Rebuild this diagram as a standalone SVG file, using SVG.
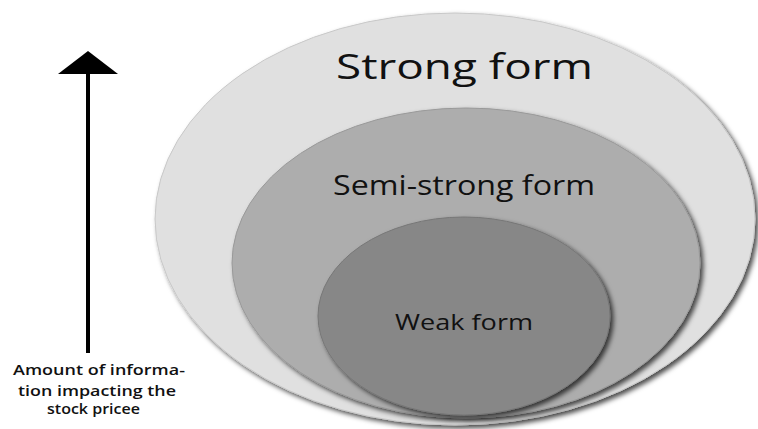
<svg xmlns="http://www.w3.org/2000/svg" width="758" height="429" viewBox="0 0 758 429">
<style>
.lbl{font-family:"Open Sans","Liberation Sans",sans-serif;fill:#111}
.side{font-family:"Open Sans","Liberation Sans",sans-serif;fill:#111;font-size:14px;font-weight:600}
</style>
<defs>
<filter id="sh" x="-10%" y="-10%" width="125%" height="125%">
<feDropShadow dx="3" dy="3" stdDeviation="2.5" flood-color="#000" flood-opacity="0.7"/>
</filter>
</defs>
<rect width="758" height="429" fill="#fff"/>
<g id="strong">
<ellipse cx="455" cy="219" rx="300" ry="206" fill="#e0e0e0" stroke="#c8c8c8" stroke-width="1" filter="url(#sh)"/>
<text class="lbl" x="336" y="79" font-size="35" textLength="257" lengthAdjust="spacingAndGlyphs">Strong form</text>
</g>
<g id="semi">
<ellipse cx="466" cy="263" rx="234" ry="155" fill="#adadad" stroke="#999" stroke-width="1" filter="url(#sh)"/>
<text class="lbl" x="333" y="195" font-size="28" textLength="262" lengthAdjust="spacingAndGlyphs">Semi-strong form</text>
</g>
<g id="weak">
<ellipse cx="464" cy="316" rx="146" ry="99" fill="#878787" stroke="#777" stroke-width="1" filter="url(#sh)"/>
<text class="lbl" x="395" y="330" font-size="21" font-weight="500" textLength="138" lengthAdjust="spacingAndGlyphs">Weak form</text>
</g>
<g id="connectors">
<line x1="88" y1="72" x2="88" y2="353" stroke="#000" stroke-width="4"/>
<polygon points="88,51 118,74 58,74" fill="#000"/>
</g>
<g id="axis-label">
<text class="side" x="13" y="375" textLength="172" lengthAdjust="spacingAndGlyphs">Amount of informa-</text>
<text class="side" x="18" y="396" textLength="158" lengthAdjust="spacingAndGlyphs">tion impacting the</text>
<text class="side" x="47" y="414" textLength="93" lengthAdjust="spacingAndGlyphs">stock pricee</text>
</g>
</svg>
